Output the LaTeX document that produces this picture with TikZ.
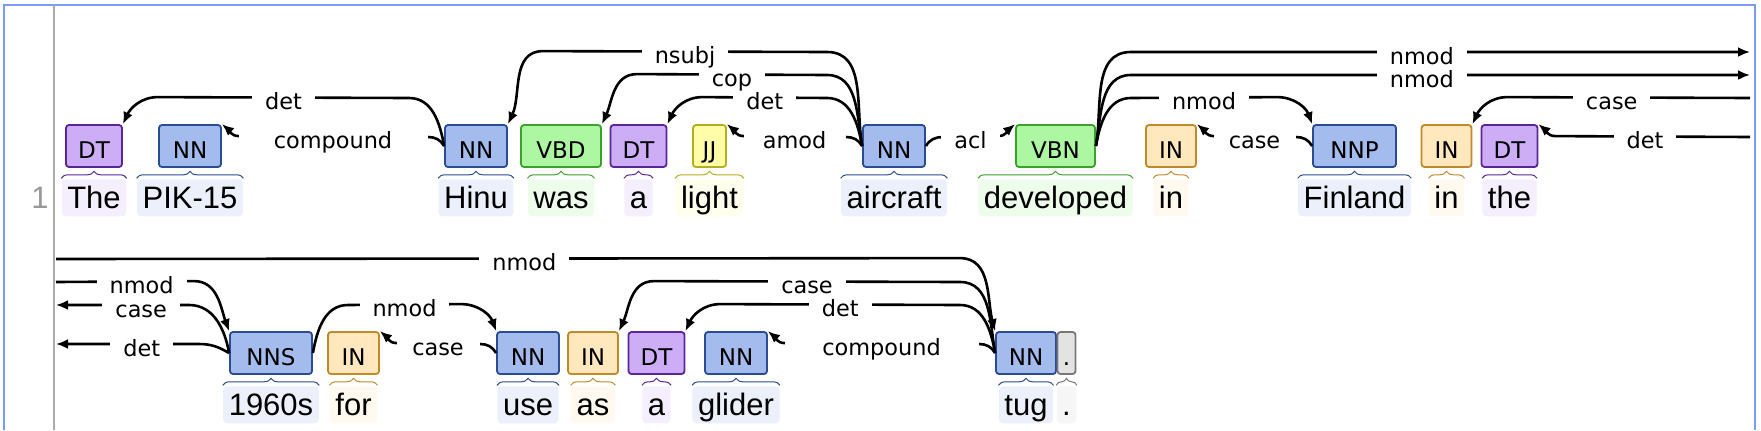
\documentclass[tikz,border=0pt]{standalone}
\usepackage{fontspec}
\setmainfont{Liberation Sans}
\newfontfamily\tagfont{DejaVu Sans}
\usepackage{tikz}
\usetikzlibrary{arrows.meta,positioning,calc,decorations.pathreplacing}
\definecolor{NNFill}{HTML}{A4BCED}
\definecolor{NNLine}{HTML}{2B4C91}
\definecolor{NNWord}{HTML}{EBF0FB}
\definecolor{DTFill}{HTML}{CCADF6}
\definecolor{DTLine}{HTML}{5A2597}
\definecolor{DTWord}{HTML}{F4EEFD}
\definecolor{VBFill}{HTML}{ADF6A2}
\definecolor{VBLine}{HTML}{3AA12B}
\definecolor{VBWord}{HTML}{EEFCEC}
\definecolor{JJFill}{HTML}{FFFDA8}
\definecolor{JJLine}{HTML}{B5AE1F}
\definecolor{JJWord}{HTML}{FFFFEE}
\definecolor{INFill}{HTML}{FFE8BE}
\definecolor{INLine}{HTML}{C08A2B}
\definecolor{INWord}{HTML}{FFF9EF}
\definecolor{PUFill}{HTML}{E3E3E3}
\definecolor{PULine}{HTML}{787878}
\definecolor{PUWord}{HTML}{F6F6F6}
\definecolor{FrameBlue}{HTML}{7B9CF4}
\definecolor{RuleGray}{HTML}{AAAAAA}

\begin{document}
\begin{tikzpicture}[x=0.5pt,y=0.5pt,>={Latex[length=6pt,width=5pt]},node distance=5.5pt]
\tikzset{tagbox/.style={draw,rounded corners=1.5pt,line width=0.9pt,minimum height=21pt,inner sep=0pt,text height=12pt,text depth=0pt,font=\tagfont\fontsize{11.5}{12}\selectfont},
  dtbox/.style={tagbox,draw=DTLine,fill=DTFill,minimum width=28pt},
  nnbox/.style={tagbox,draw=NNLine,fill=NNFill,minimum width=31pt},
  vbbox/.style={tagbox,draw=VBLine,fill=VBFill,minimum width=40pt},
  jjbox/.style={tagbox,draw=JJLine,fill=JJFill,minimum width=16.5pt},
  inbox/.style={tagbox,draw=INLine,fill=INFill,minimum width=25pt},
  pubox/.style={tagbox,draw=PULine,fill=PUFill,minimum width=9pt},
  wordbox/.style={rounded corners=2pt,inner xsep=2.8pt,inner ysep=0pt,minimum height=18.5pt,text height=11pt,text depth=0pt,font=\fontsize{15.5}{18}\selectfont},
  dtword/.style={wordbox,fill=DTWord},
  nnword/.style={wordbox,fill=NNWord},
  vbword/.style={wordbox,fill=VBWord},
  jjword/.style={wordbox,fill=JJWord},
  inword/.style={wordbox,fill=INWord},
  puword/.style={wordbox,fill=PUWord},
  tagbrace/.style={decorate,decoration={brace,amplitude=3.5pt,raise=0.3pt},line width=0.5pt},
  arc/.style={draw,line width=1.3pt},
  lbl/.style={fill=white,inner xsep=6.5pt,inner ysep=0.5pt,text height=7.5pt,text depth=2pt,anchor=base,yshift=-6pt,font=\tagfont\fontsize{11.2}{12}\selectfont}}
\useasboundingbox (0,0) rectangle (1761,-430);
\draw[FrameBlue,line width=1pt] (4,-430) |- (1755,-5) -- (1755,-430);
\draw[RuleGray,line width=1pt] (54,-5) -- (54,-430);
\node[text=RuleGray!90!black,font=\fontsize{15.5}{18}\selectfont] (lineno) at (40,-198) {1};
% row 1 tokens
\node[dtbox] (the1) at (94,-146) {DT};
\node[nnbox] (pik) at (190,-146) {NN};
\node[nnbox] (hinu) at (476,-146) {NN};
\node[vbbox] (was) at (561,-146) {VBD};
\node[dtbox] (a1) at (638.5,-146) {DT};
\node[jjbox] (light) at (709.5,-146) {JJ};
\node[nnbox] (aircraft) at (894,-146) {NN};
\node[vbbox,minimum width=39.5pt] (developed) at (1055.5,-146) {VBN};
\node[inbox] (in1) at (1171,-146) {IN};
\node[nnbox,minimum width=41.5pt] (finland) at (1354.5,-146) {NNP};
\node[inbox] (in2) at (1446.5,-146) {IN};
\node[dtbox] (the2) at (1509.5,-146) {DT};
\node[dtword,below=of the1] (the1w) {The};
\node[nnword,below=of pik] (pikw) {PIK-15};
\node[nnword,below=of hinu] (hinuw) {Hinu};
\node[vbword,below=of was] (wasw) {was};
\node[dtword,below=of a1] (a1w) {a};
\node[jjword,below=of light] (lightw) {light};
\node[nnword,below=of aircraft] (aircraftw) {aircraft};
\node[vbword,below=of developed] (developedw) {developed};
\node[inword,below=of in1] (in1w) {in};
\node[nnword,below=of finland] (finlandw) {Finland};
\node[inword,below=of in2] (in2w) {in};
\node[dtword,below=of the2] (the2w) {the};
\draw[tagbrace,DTLine] (the1w.north west) -- (the1w.north east);
\draw[tagbrace,NNLine] (pikw.north west) -- (pikw.north east);
\draw[tagbrace,NNLine] (hinuw.north west) -- (hinuw.north east);
\draw[tagbrace,VBLine] (wasw.north west) -- (wasw.north east);
\draw[tagbrace,DTLine] (a1w.north west) -- (a1w.north east);
\draw[tagbrace,JJLine] (lightw.north west) -- (lightw.north east);
\draw[tagbrace,NNLine] (aircraftw.north west) -- (aircraftw.north east);
\draw[tagbrace,VBLine] (developedw.north west) -- (developedw.north east);
\draw[tagbrace,INLine] (in1w.north west) -- (in1w.north east);
\draw[tagbrace,NNLine] (finlandw.north west) -- (finlandw.north east);
\draw[tagbrace,INLine] (in2w.north west) -- (in2w.north east);
\draw[tagbrace,DTLine] (the2w.north west) -- (the2w.north east);
% row 2 tokens
\node[nnbox,minimum width=41pt] (s1960) at (271,-353) {NNS};
\node[inbox,minimum width=25.5pt] (for) at (353.5,-353) {IN};
\node[nnbox] (use) at (528,-353) {NN};
\node[inbox] (as) at (593,-353) {IN};
\node[dtbox] (a2) at (656.5,-353) {DT};
\node[nnbox] (glider) at (736,-353) {NN};
\node[nnbox,minimum width=30pt] (tug) at (1026,-353) {NN};
\node[pubox] (dot) at (1066.5,-353) {.};
\node[nnword,below=of s1960] (s1960w) {1960s};
\node[inword,below=of for] (forw) {for};
\node[nnword,below=of use] (usew) {use};
\node[inword,below=of as] (asw) {as};
\node[dtword,below=of a2] (a2w) {a};
\node[nnword,below=of glider] (gliderw) {glider};
\node[nnword,below=of tug] (tugw) {tug};
\node[puword,below=of dot] (dotw) {.};
\draw[tagbrace,NNLine] (s1960w.north west) -- (s1960w.north east);
\draw[tagbrace,INLine] (forw.north west) -- (forw.north east);
\draw[tagbrace,NNLine] (usew.north west) -- (usew.north east);
\draw[tagbrace,INLine] (asw.north west) -- (asw.north east);
\draw[tagbrace,DTLine] (a2w.north west) -- (a2w.north east);
\draw[tagbrace,NNLine] (gliderw.north west) -- (gliderw.north east);
\draw[tagbrace,NNLine] (tugw.north west) -- (tugw.north east);
\draw[tagbrace,PULine] (dotw.north west) -- (dotw.north east);
% edges of the rows
\coordinate (r4) at (1750,-52);
\coordinate (r3) at (1750,-75);
\coordinate (r2) at (1750,-98);
\coordinate (r1) at (1750,-137);
\coordinate (l4) at (56,-259);
\coordinate (l3) at (56,-282);
\coordinate (l2) at (56,-305);
\coordinate (l1) at (56,-344);
% row 1 arcs
\draw[arc,<-] (the1.north east) to[out=65,in=180] ($(the1.north east)+(35,27)$) -- node[lbl] (det1) {det} ($(hinu.west)+(-35,48)$) to[out=0,in=100] (hinu.west);
\draw[arc,->] (hinu.west) to[out=120,in=0] ++(-16,9) ($(pik.north east)+(17,-12)$) to[out=180,in=-40] (pik.north east);
\node[lbl,yshift=-0.75pt] (compound1) at ($(pik.north east)!.5!(hinu.west)$) {compound};
\draw[arc,<-] (hinu.north east) to[out=65,in=180] ($(hinu.north east)+(35,73)$) -- node[lbl] (nsubj) {nsubj} ($(aircraft.west)+(-35,94)$) to[out=0,in=100] (aircraft.west);
\draw[arc,<-] (was.north east) to[out=65,in=180] ($(was.north east)+(35,50)$) -- node[lbl] (cop) {cop} ($(aircraft.west)+(-35,71)$) to[out=0,in=100] (aircraft.west);
\draw[arc,<-] (a1.north east) to[out=65,in=180] ($(a1.north east)+(35,27)$) -- node[lbl] (det2) {det} ($(aircraft.west)+(-35,48)$) to[out=0,in=100] (aircraft.west);
\draw[arc,->] (aircraft.west) to[out=120,in=0] ++(-16,9) ($(light.north east)+(17,-12)$) to[out=180,in=-40] (light.north east);
\node[lbl,yshift=-0.75pt] (amod) at ($(light.north east)!.5!(aircraft.west)$) {amod};
\draw[arc,->] (aircraft.east) to[out=60,in=180] ++(17,9) ($(developed.north west)+(-17,-12)$) to[out=0,in=220] (developed.north west);
\node[lbl,yshift=-0.75pt] (acl) at ($(aircraft.east)!.5!(developed.north west)$) {acl};
\draw[arc,->] (developed.east) to[out=80,in=180] ($(developed.east)+(35,94)$) -- node[lbl,pos=.47] (nmod1) {nmod} (r4);
\draw[arc,->] (developed.east) to[out=80,in=180] ($(developed.east)+(35,71)$) -- node[lbl,pos=.47] (nmod2) {nmod} (r3);
\draw[arc,->] (developed.east) to[out=80,in=180] ($(developed.east)+(35,48)$) -- node[lbl] (nmod3) {nmod} ($(finland.north west)+(-35,27)$) to[out=0,in=110] (finland.north west);
\draw[arc,->] (finland.west) to[out=120,in=0] ++(-16,9) ($(in1.north east)+(17,-12)$) to[out=180,in=-40] (in1.north east);
\node[lbl,yshift=-0.75pt] (case1) at ($(in1.north east)!.5!(finland.west)$) {case};
\draw[arc,<-] (in2.north east) to[out=65,in=180] ($(in2.north east)+(35,27)$) -- node[lbl,pos=.43] (case2) {case} (r2);
\draw[arc,<-] (the2.north east) to[out=-40,in=180] ++(17,-12) -- node[lbl,pos=.46] (det3) {det} (r1);
% row 2 arcs
\draw[arc,->] (l4) -- node[lbl,pos=.518] (nmod4) {nmod} ($(tug.north west)+(-35,73)$) to[out=0,in=105] (tug.north west);
\draw[arc,->] (l3) -- node[lbl,pos=.62] (nmod5) {nmod} ($(s1960.north west)+(-35,50)$) to[out=0,in=110] (s1960.north west);
\draw[arc,<-] (l2) -- node[lbl,pos=.64] (case3) {case} ($(s1960.west)+(-40,48)$) to[out=0,in=100] (s1960.west);
\draw[arc,<-] (l1) -- node[lbl,pos=.6] (det4) {det} ($(s1960.west)+(-30,9)$) to[out=0,in=150] (s1960.west);
\draw[arc,->] (s1960.east) to[out=80,in=180] ($(s1960.east)+(35,48)$) -- node[lbl] (nmod6) {nmod} ($(use.north west)+(-35,27)$) to[out=0,in=110] (use.north west);
\draw[arc,->] (use.west) to[out=120,in=0] ++(-16,9) ($(for.north east)+(17,-12)$) to[out=180,in=-40] (for.north east);
\node[lbl,yshift=-0.75pt] (case4) at ($(for.north east)!.5!(use.west)$) {case};
\draw[arc,<-] (as.north east) to[out=65,in=180] ($(as.north east)+(35,50)$) -- node[lbl] (case5) {case} ($(tug.west)+(-35,71)$) to[out=0,in=100] (tug.west);
\draw[arc,<-] (a2.north east) to[out=65,in=180] ($(a2.north east)+(35,27)$) -- node[lbl] (det5) {det} ($(tug.west)+(-35,48)$) to[out=0,in=100] (tug.west);
\draw[arc,->] (tug.west) to[out=120,in=0] ++(-16,9) ($(glider.north east)+(17,-12)$) to[out=180,in=-40] (glider.north east);
\node[lbl,yshift=-0.75pt] (compound2) at ($(glider.north east)!.5!(tug.west)$) {compound};
\end{tikzpicture}
\end{document}
